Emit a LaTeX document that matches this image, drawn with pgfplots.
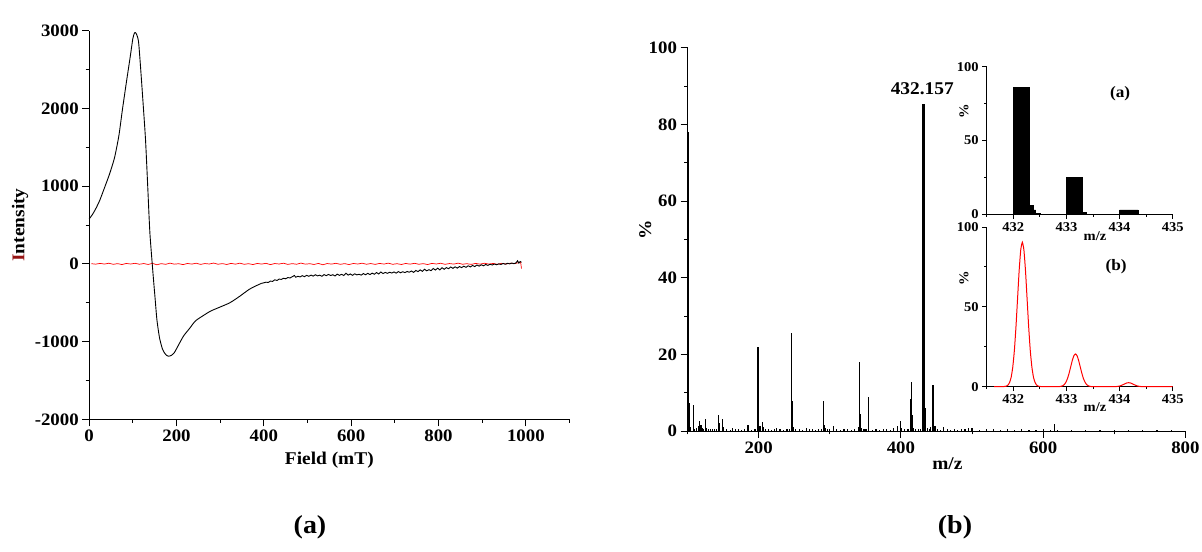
\documentclass[border=0pt]{standalone}
\usepackage{fontspec}
\setmainfont{Liberation Serif}[FakeStretch=1.08]
\usepackage{pgfplots}
\pgfplotsset{compat=1.18}
\pgfplotsset{
  myax/.style={
    scale only axis,
    axis x line=bottom, axis y line=left,
    axis line style={-, line width=0.9pt},
    tick align=outside,
    major tick length=7bp, minor tick length=3.5bp,
    every tick/.style={line width=0.9pt, black},
    tick label style={font=\fontsize{17.5}{17.5}\selectfont\bfseries},
    label style={font=\fontsize{18}{18}\selectfont\bfseries},
    /pgf/number format/assume math mode=true,
    /pgf/number format/1000 sep={},
    scaled ticks=false,
    clip=false,
  },
  inax/.style={
    myax,
    major tick length=4.5bp, minor tick length=2.5bp,
    tick label style={font=\fontsize{13.5}{13.5}\selectfont\bfseries},
    label style={font=\fontsize{13.5}{13.5}\selectfont\bfseries},
    xmin=431.5, xmax=435, ymin=0, ymax=100,
    xtick={432,433,434,435}, minor xtick={431.5,432.5,433.5,434.5},
    ytick={0,50,100}, minor ytick={25,75},
    xticklabel style={/pgf/number format/fixed, /pgf/number format/precision=0},
  },
}
\begin{document}
\begin{tikzpicture}[x=1bp,y=1bp]
\fill[white] (0,0) rectangle (1202,552);
\useasboundingbox (0,0) rectangle (1202,552);

% ---------- Left panel (EPR) ----------
\begin{axis}[myax,
  at={(89.2bp,132.7bp)}, anchor=south west,
  width=480.3bp, height=388.6bp,
  xmin=0, xmax=1100, ymin=-2000, ymax=3000,
  xtick={0,200,...,1000}, minor xtick={100,300,...,1100},
  ytick={-2000,-1000,...,3000}, minor ytick={-1500,-500,...,2500},
  xlabel={Field (mT)}, ylabel={{\color[RGB]{150,20,20}I}ntensity},
  xlabel style={at={(axis description cs:0.5,-0.075)}, anchor=north},
  ylabel style={at={(axis description cs:-0.144,0.5)}, anchor=center},
]
\addplot[red, line width=0.7pt] coordinates {
(5,2)(15,-4)(25,6)(35,-3)(45,8)(55,-6)(65,3)(75,-9)(85,5)(95,-2)(105,7)(115,-5)(125,4)(135,-8)(145,6)(155,-12)(165,3)(175,-6)(185,9)(195,-4)(205,2)(215,-10)(225,5)(235,-3)(245,8)(255,-7)(265,4)(275,-2)(285,10)(295,-5)(305,3)(315,-8)(325,6)(335,-4)(345,9)(355,-6)(365,2)(375,-9)(385,5)(395,-3)(405,7)(415,-10)(425,4)(435,-2)(445,8)(455,-7)(465,3)(475,-5)(485,10)(495,-4)(505,2)(515,-8)(525,6)(535,-12)(545,4)(555,-3)(565,7)(575,-6)(585,3)(595,-9)(605,5)(615,-2)(625,8)(635,-5)(645,4)(655,-7)(665,6)(675,-3)(685,9)(695,-6)(705,2)(715,-8)(725,5)(735,-4)(745,7)(755,-5)(765,3)(775,-9)(785,6)(795,-2)(805,8)(815,-6)(825,4)(835,-3)(845,9)(855,-5)(865,2)(875,-7)(885,6)(895,-4)(905,8)(915,-3)(925,5)(935,-6)(945,7)(955,-2)(965,9)(975,3)(985,18)(988,25)(990,-60)
};
\addplot[black, line width=0.9pt, smooth, tension=0.4] coordinates {
(0,578)(8,640)(16,720)(24,815)(32,933)(45,1130)(52,1250)(58.7,1382)(68,1650)(76,1981)(85,2330)(94,2666)(100,2900)(104,2974)(108,2960)(113,2858)(118,2500)(123,2100)(129,1596)(134,1000)(139,398)(146,-115)(151,-450)(155,-715)(161,-950)(168,-1100)(175,-1165)(181,-1188)(188,-1178)(195,-1142)(205,-1040)(216,-929)(230,-830)(243,-736)(260,-670)(278,-608)(300,-555)(322,-501)(344,-420)(366,-330)(383,-280)(395,-250)
};
\addplot[black, line width=0.9pt] coordinates {
(395,-250)(400,-244)(405,-236)(410,-240)(415,-222)(420,-226)(425,-205)(430,-214)(435,-196)(440,-200)(445,-185)(450,-192)(455,-176)(460,-182)(465,-165)(470,-150)(473,-172)(478,-160)(483,-168)(488,-152)(493,-165)(498,-148)(503,-160)(508,-145)(513,-158)(518,-140)(523,-155)(528,-146)(533,-160)(538,-138)(543,-152)(548,-136)(553,-150)(558,-140)(563,-156)(568,-132)(573,-148)(578,-135)(583,-150)(588,-120)(593,-145)(598,-130)(603,-148)(608,-128)(613,-142)(618,-134)(623,-145)(628,-125)(633,-140)(638,-122)(643,-138)(648,-120)(653,-134)(658,-112)(663,-130)(668,-105)(673,-125)(678,-110)(683,-122)(688,-108)(693,-118)(698,-104)(703,-120)(708,-100)(713,-115)(718,-102)(723,-112)(728,-98)(733,-108)(738,-92)(743,-110)(748,-85)(753,-100)(758,-78)(763,-96)(768,-70)(773,-90)(778,-75)(783,-88)(788,-60)(793,-80)(798,-55)(803,-78)(808,-50)(813,-70)(818,-48)(823,-62)(828,-40)(833,-58)(838,-38)(843,-55)(848,-35)(853,-48)(858,-30)(863,-45)(868,-25)(873,-40)(878,-20)(883,-35)(888,-15)(893,-30)(898,-12)(903,-25)(908,-8)(913,-20)(918,-5)(923,-15)(928,-2)(933,-12)(938,0)(943,-8)(948,5)(953,-5)(958,8)(963,0)(968,10)(973,2)(978,15)(981,40)(984,10)(987,30)(990,20)
};
\end{axis}

% ---------- Right panel main (MS) ----------
\begin{axis}[myax,
  at={(687.5bp,121bp)}, anchor=south west,
  width=497.9bp, height=383.3bp,
  xmin=100, xmax=800, ymin=0, ymax=100,
  xtick={200,400,600,800}, minor xtick={100,300,500,700},
  ytick={0,20,...,100}, minor ytick={10,30,...,90},
  xlabel={m/z}, ylabel={\%},
  xlabel style={at={(axis description cs:0.522,-0.06)}, anchor=north},
  ylabel style={at={(axis description cs:-0.085,0.524)}, anchor=center},
]
\addplot[ycomb, black, line width=1.2pt] coordinates {
(101,78)(102,7.2)(104,1)(108,6.8)(110,0.6)(113,0.8)(115,1.2)(117,2.7)(119,1.5)(121,0.7)(123,0.5)(125,3.1)(127,0.8)(129,0.5)(132,0.6)(135,0.6)(138,0.5)(141,0.6)(144,4.3)(145,2)(149,3.1)(150,1)(155,0.4)(160,0.3)(163,0.7)(168,0.4)(172,0.5)(176,0.3)(180,0.5)(185,1.5)(186,0.6)(190,0.3)(195,0.4)(199,21.8)(200,5.2)(202,1.2)(205,2.3)(206,1)(210,0.5)(214,0.4)(218,0.3)(222,0.5)(225,0.8)(230,0.4)(235,0.3)(240,0.6)(243,0.4)(246,25.5)(247,7.8)(249,1)(252,0.5)(257,0.4)(262,0.3)(267,0.7)(272,0.4)(276,0.5)(280,0.3)(284,0.4)(288,0.5)(291,7.8)(292,1.5)(294,0.8)(297,0.4)(300,0.5)(305,1.2)(310,0.4)(315,0.3)(320,0.5)(325,0.4)(330,0.3)(335,0.6)(340,1)(342,17.9)(343,4.5)(345,0.8)(348,0.4)(351,0.5)(354,8.9)(355,1)(360,0.3)(365,0.4)(370,0.3)(375,0.4)(380,0.5)(385,0.3)(390,0.8)(395,1.2)(400,2.6)(401,0.7)(405,0.4)(410,0.5)(414,8.4)(415,12.9)(416,4.3)(418,0.8)(420,0.5)(425,0.4)(428,0.6)(433,18.7)(434,6.1)(435,1.5)(437,0.8)(440,0.6)(442,1)(445,12)(446,5.5)(448,1.2)(452,0.4)(456,0.3)(460,1)(465,0.4)(470,0.3)(475,0.5)(480,0.3)(485,0.4)(490,0.6)(495,0.8)(500,0.7)(510,0.3)(520,0.4)(530,0.5)(540,0.3)(550,0.4)(560,0.3)(570,0.5)(580,0.3)(590,0.3)(600,0.4)(610,0.3)(616,1.8)(620,0.3)(640,0.3)(660,0.2)(680,0.3)(700,0.2)(720,0.3)(740,0.2)(760,0.2)(780,0.2)
};
\addplot[ycomb, black, line width=2.6pt] coordinates {(432,85.2)};
\node[font=\fontsize{18}{18}\selectfont\bfseries] at (axis cs:430,89.3) {432.157};
\end{axis}

% ---------- Inset (a) ----------
\begin{axis}[inax,
  at={(986.7bp,337.7bp)}, anchor=south west,
  width=186bp, height=147.6bp,
  xlabel={m/z}, ylabel={\%},
  xlabel style={at={(axis description cs:0.582,-0.147)}, anchor=center},
  ylabel style={at={(axis description cs:-0.122,0.695)}, anchor=center},
]
\addplot[ybar interval, fill=black, draw=black, line width=0.3pt] coordinates {
(432,86)(432.3,6)(432.37,3)(432.42,0.6)(432.5,0)(433,25)(433.3,1.2)(433.38,0)(434,3)(434.35,0)(434.4,0)
};
\node[font=\fontsize{16}{16}\selectfont\bfseries] at (axis description cs:0.717,0.82) {(a)};
\end{axis}

% ---------- Inset (b) ----------
\begin{axis}[inax,
  at={(986.7bp,165.3bp)}, anchor=south west,
  width=186bp, height=159.7bp,
  xlabel={m/z}, ylabel={\%},
  xlabel style={at={(axis description cs:0.582,-0.125)}, anchor=center},
  ylabel style={at={(axis description cs:-0.122,0.679)}, anchor=center},
]
\addplot[red, line width=1pt, smooth, tension=0.3] coordinates {
(431.64,0)(431.8,0)(431.87,0.35)(431.9,1.0)(431.93,2.6)(431.96,5.9)(431.99,12.2)(432.02,22.5)(432.05,37.2)(432.08,54.9)(432.11,72.5)(432.14,85.6)(432.17,90.5)(432.20,85.6)(432.23,72.5)(432.26,54.9)(432.29,37.2)(432.32,22.5)(432.35,12.2)(432.38,5.9)(432.41,2.6)(432.44,1.0)(432.47,0.35)(432.55,0)(432.8,0)(432.87,0.08)(432.90,0.23)(432.93,0.59)(432.96,1.35)(432.99,2.8)(433.02,5.1)(433.05,8.4)(433.08,12.4)(433.11,16.4)(433.14,19.4)(433.17,20.5)(433.20,19.4)(433.23,16.4)(433.26,12.4)(433.29,8.4)(433.32,5.1)(433.35,2.8)(433.38,1.35)(433.41,0.59)(433.44,0.23)(433.47,0.08)(433.55,0)(433.9,0)(433.93,0.07)(433.96,0.16)(433.99,0.34)(434.02,0.62)(434.05,1.03)(434.08,1.5)(434.11,2.0)(434.14,2.37)(434.17,2.5)(434.20,2.37)(434.23,2.0)(434.26,1.5)(434.29,1.03)(434.32,0.62)(434.35,0.34)(434.38,0.16)(434.41,0.07)(434.5,0)(435,0)
};
\node[font=\fontsize{16}{16}\selectfont\bfseries] at (axis description cs:0.696,0.751) {(b)};
\end{axis}

% ---------- panel captions ----------
\node[font=\fontsize{26}{26}\selectfont\bfseries] at (310,25) {(a)};
\node[font=\fontsize{26}{26}\selectfont\bfseries] at (955,25) {(b)};
\end{tikzpicture}
\end{document}
